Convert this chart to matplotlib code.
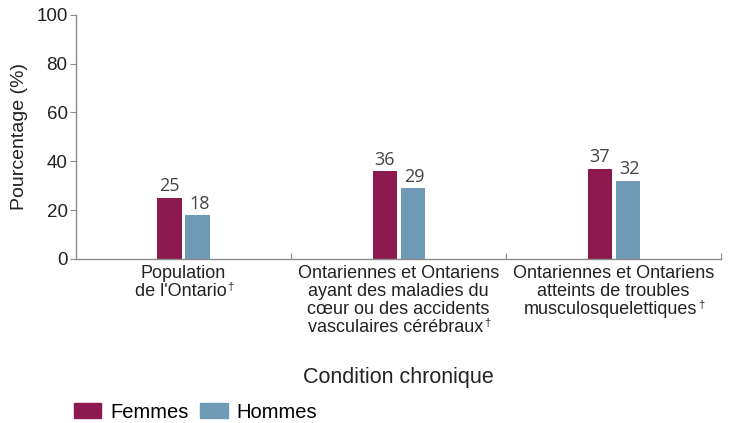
import numpy as np
import matplotlib.pyplot as plt
from matplotlib.patches import Patch

categories = [["Population", "de l'Ontario"],
              ["Ontariennes et Ontariens", "ayant des maladies du",
               "cœur ou des accidents", "vasculaires cérébraux"],
              ["Ontariennes et Ontariens", "atteints de troubles",
               "musculosquelettiques"]]
femmes = [25, 36, 37]
hommes = [18, 29, 32]

c_f = '#8c1a4f'
c_h = '#6f9ab5'
axis_col = '#8a8a8a'
txt_col = '#222222'

plt.rcParams['font.family'] = ['Liberation Sans', 'DejaVu Sans']

fig = plt.figure(figsize=(7.3, 4.23), dpi=100)
ax = fig.add_axes([0.104, 0.388, 0.884, 0.577])

x = np.arange(len(categories))
w = 0.112
off = 0.065
ax.bar(x - off, femmes, w, color=c_f)
ax.bar(x + off, hommes, w, color=c_h)

for i in range(len(x)):
    ax.text(x[i] - off, femmes[i] + 1.0, str(femmes[i]), ha='center', va='bottom',
            fontsize=13, color='#444444', family='Open Sans')
    ax.text(x[i] + off + 0.01, hommes[i] + 1.0, str(hommes[i]), ha='center', va='bottom',
            fontsize=13, color='#444444', family='Open Sans')

ax.set_xlim(-0.5, 2.5)
ax.set_ylim(0, 100)
ax.set_yticks([0, 20, 40, 60, 80, 100])
ax.tick_params(axis='y', labelsize=13.5, length=4, color=axis_col, width=0.8, pad=2,
               labelcolor=txt_col)

# boundaries between groups get the x ticks, labels sit at the group centres
ax.set_xticks([0.5, 1.5, 2.5])
ax.set_xticklabels([])
ax.tick_params(axis='x', direction='in', length=4, color=axis_col, width=0.8)

last_lines = []
for i, lines in enumerate(categories):
    n = len(lines)
    for k, line in enumerate(lines):
        dx = -3 if k == n - 1 else 0   # room for the dagger
        t = ax.annotate(line, xy=(x[i], 0), xycoords=('data', 'axes fraction'),
                        xytext=(dx, -6 - k * 18), textcoords='offset pixels',
                        ha='center', va='top', fontsize=13, color=txt_col)
    last_lines.append(t)

for s in ['top', 'right']:
    ax.spines[s].set_visible(False)
for s in ['left', 'bottom']:
    ax.spines[s].set_color(axis_col)
    ax.spines[s].set_linewidth(1.0)

ax.set_ylabel('Pourcentage (%)', fontsize=14, color=txt_col, labelpad=6)
fig.text(0.546, 0.107, 'Condition chronique', ha='center', va='center', fontsize=15.5,
         color=txt_col)

handles = [Patch(color=c_f, label='Femmes'), Patch(color=c_h, label='Hommes')]
fig.legend(handles=handles, loc='center left', bbox_to_anchor=(0.101, 0.026), ncol=2,
           frameon=False, fontsize=14.5, handlelength=1.35, handleheight=0.7,
           handletextpad=0.45, columnspacing=0.6, borderaxespad=0, borderpad=0)

# small dagger after the last line of each category label
fig.canvas.draw()
r = fig.canvas.get_renderer()
for t in last_lines:
    bb = t.get_window_extent(r)
    fig.text(bb.x1 + 1, bb.y1 + 1, '†', ha='left', va='top', fontsize=8,
             color=txt_col, transform=None)

fig.savefig('out.png', dpi=100)
